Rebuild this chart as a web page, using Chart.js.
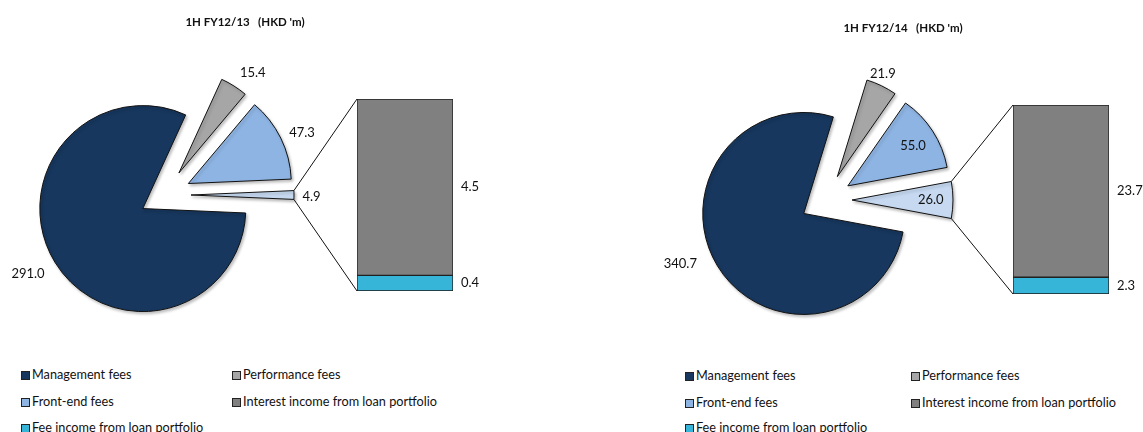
<!DOCTYPE html>
<html>
<head>
<meta charset="utf-8">
<script src="https://cdn.jsdelivr.net/npm/chart.js@4.4.1/dist/chart.umd.min.js"></script>
<style>
  html, body { margin: 0; padding: 0; background: #fff; }
  body { width: 1143px; height: 432px; position: relative; overflow: hidden; font-family: Lato, sans-serif; color: #111; }
  .panel { position: absolute; top: 0; height: 340px; }
  .panel canvas { position: absolute; left: 0; top: 0; }
  .title { position: absolute; font-weight: bold; font-size: 11.5px; white-space: pre; transform: translate(-50%, -50%); }
  .item { position: absolute; font-size: 12.7px; white-space: nowrap; line-height: 14px; transform: translateY(-50%); }
  .item .box { display: inline-block; width: 7px; height: 7px; border: 1px solid #222; margin-right: 2px; vertical-align: -1px; }
</style>
</head>
<body>
<div id="p1" class="panel" style="left:0;width:570px">
  <canvas id="pie1" width="570" height="340"></canvas>
  <canvas id="bar1" width="570" height="340"></canvas>
</div>
<div id="p2" class="panel" style="left:570px;width:573px">
  <canvas id="pie2" width="573" height="340"></canvas>
  <canvas id="bar2" width="573" height="340"></canvas>
</div>
<script>
// data
const titles = ["1H FY12/13   (HKD 'm)", "1H FY12/14   (HKD 'm)"];
const sliceNames = ['Management fees', 'Performance fees', 'Front-end fees', 'Other'];
const barNames = ['Fee income from loan portfolio', 'Interest income from loan portfolio'];
const pieValues1 = [291.0, 15.4, 47.3, 4.9];
const barValues1 = [0.4, 4.5];
const pieValues2 = [340.7, 21.9, 55.0, 26.0];
const barValues2 = [2.3, 23.7];
const legendNames = ['Management fees', 'Performance fees', 'Front-end fees',
  'Interest income from loan portfolio', 'Fee income from loan portfolio'];

// styles
const pieColors = ['#17375E', '#A6A6A6', '#8EB4E3', '#C6D9F1'];
const barColors = ['#37B5D8', '#808080'];
const legendColors = ['#17375E', '#A6A6A6', '#8EB4E3', '#808080', '#37B5D8'];
const labelFont = '13px Lato';

const pies = {};

const explode = {
  id: 'explode',
  afterDatasetsUpdate(chart, args, opts) {
    const a = chart.chartArea;
    const cx = (a.left + a.right) / 2, cy = (a.top + a.bottom) / 2;
    chart.getDatasetMeta(0).data.forEach(arc => {
      const mid = (arc.startAngle + arc.endAngle) / 2;
      arc.x = cx + Math.cos(mid) * opts.distance;
      arc.y = cy + Math.sin(mid) * opts.distance;
    });
  }
};

const shade = {
  id: 'shade',
  beforeDatasetsDraw(chart) {
    const ctx = chart.ctx;
    ctx.save();
    ctx.shadowColor = 'rgba(0,0,0,0.25)';
    ctx.shadowBlur = 3;
    ctx.shadowOffsetX = 1.5;
    ctx.shadowOffsetY = 2;
  },
  afterDatasetsDraw(chart) {
    chart.ctx.restore();
  }
};

const pieLabels = {
  id: 'pieLabels',
  afterDatasetsDraw(chart, args, opts) {
    const ctx = chart.ctx;
    const values = chart.data.datasets[0].data;
    ctx.save();
    ctx.font = labelFont;
    ctx.fillStyle = '#111';
    ctx.textAlign = 'center';
    ctx.textBaseline = 'middle';
    chart.getDatasetMeta(0).data.forEach((arc, i) => {
      const a = (arc.startAngle + arc.endAngle) / 2 + opts.turn[i] * Math.PI / 180;
      const r = arc.outerRadius * opts.dist[i];
      ctx.fillText(values[i].toFixed(1), arc.x + Math.cos(a) * r, arc.y + Math.sin(a) * r);
    });
    ctx.restore();
  }
};

const zoomLines = {
  id: 'zoomLines',
  afterDatasetsDraw(chart, args, opts) {
    const ctx = chart.ctx;
    const arc = pies[opts.pieId].getDatasetMeta(0).data[3];
    const topBar = chart.getDatasetMeta(1).data[0];
    const lowBar = chart.getDatasetMeta(0).data[0];
    const left = topBar.x - topBar.width / 2;
    const R = arc.outerRadius;
    ctx.save();
    ctx.strokeStyle = '#111';
    ctx.lineWidth = 1;
    ctx.beginPath();
    ctx.moveTo(arc.x + Math.cos(arc.startAngle) * R, arc.y + Math.sin(arc.startAngle) * R);
    ctx.lineTo(left, topBar.y);
    ctx.moveTo(arc.x + Math.cos(arc.endAngle) * R, arc.y + Math.sin(arc.endAngle) * R);
    ctx.lineTo(left, lowBar.base);
    ctx.stroke();
    // value labels right of the bar
    ctx.font = labelFont;
    ctx.fillStyle = '#111';
    ctx.textAlign = 'left';
    ctx.textBaseline = 'middle';
    chart.data.datasets.forEach((ds, i) => {
      const el = chart.getDatasetMeta(i).data[0];
      ctx.fillText(ds.data[0].toFixed(1), el.x + el.width / 2 + 8, (el.y + el.base) / 2);
    });
    ctx.restore();
  }
};

function makePanel(n, pieVals, barVals, cfg) {
  const total = pieVals.reduce((s, v) => s + v, 0);
  const other = pieVals[pieVals.length - 1];
  pies[n] = new Chart(document.getElementById('pie' + n), {
    type: 'pie',
    data: {
      labels: sliceNames,
      datasets: [{
        data: pieVals,
        backgroundColor: pieColors,
        borderColor: '#111',
        borderWidth: 1,
        radius: cfg.radius,
        rotation: 90 + 180 * other / total
      }]
    },
    options: {
      responsive: false,
      animation: false,
      events: [],
      layout: { padding: cfg.piePad },
      plugins: {
        legend: { display: false },
        tooltip: { enabled: false },
        explode: { distance: 26 },
        pieLabels: { dist: cfg.labelDist, turn: cfg.labelTurn }
      }
    },
    plugins: [explode, shade, pieLabels]
  });

  new Chart(document.getElementById('bar' + n), {
    type: 'bar',
    data: {
      labels: [''],
      datasets: barNames.map((name, i) => ({
        label: name,
        data: [barVals[i]],
        backgroundColor: barColors[i],
        borderColor: '#222',
        borderWidth: 1,
        borderSkipped: false,
        barPercentage: 1,
        categoryPercentage: 1
      }))
    },
    options: {
      responsive: false,
      animation: false,
      events: [],
      layout: { padding: cfg.barPad },
      scales: {
        x: { display: false, stacked: true },
        y: { display: false, stacked: true, min: 0, max: barVals.reduce((s, v) => s + v, 0) }
      },
      plugins: {
        legend: { display: false },
        tooltip: { enabled: false },
        zoomLines: { pieId: n }
      }
    },
    plugins: [shade, zoomLines]
  });

  // title
  const t = document.createElement('div');
  t.className = 'title';
  t.textContent = titles[n - 1];
  t.style.left = cfg.titlePos[0] + 'px';
  t.style.top = cfg.titlePos[1] + 'px';
  document.body.appendChild(t);

  // legend, two columns
  legendNames.forEach((name, i) => {
    const d = document.createElement('div');
    d.className = 'item';
    d.style.left = cfg.legendCols[i % 2] + 'px';
    d.style.top = cfg.legendRows[Math.floor(i / 2)] + 'px';
    const b = document.createElement('span');
    b.className = 'box';
    b.style.background = legendColors[i];
    d.appendChild(b);
    d.appendChild(document.createTextNode(name));
    document.body.appendChild(d);
  });
}

makePanel(1, pieValues1, barValues1, {
  radius: 103,
  piePad: { left: 0, right: 240, top: 50, bottom: 0 },
  barPad: { left: 357, right: 117, top: 99, bottom: 49 },
  labelDist: [1.28, 1.21, 1.21, 1.17],
  labelTurn: [2, 4, 2, 1],
  titlePos: [245, 21],
  legendCols: [21, 232],
  legendRows: [374, 401, 427]
});

makePanel(2, pieValues2, barValues2, {
  radius: 101,
  piePad: { left: 0, right: 61, top: 60, bottom: 0 },
  barPad: { left: 443, right: 34, top: 105, bottom: 46 },
  labelDist: [1.32, 1.11, 0.76, 0.78],
  labelTurn: [9, -2, 1, 0],
  titlePos: [903, 27],
  legendCols: [685, 911],
  legendRows: [375, 402, 427]
});
</script>
</body>
</html>
